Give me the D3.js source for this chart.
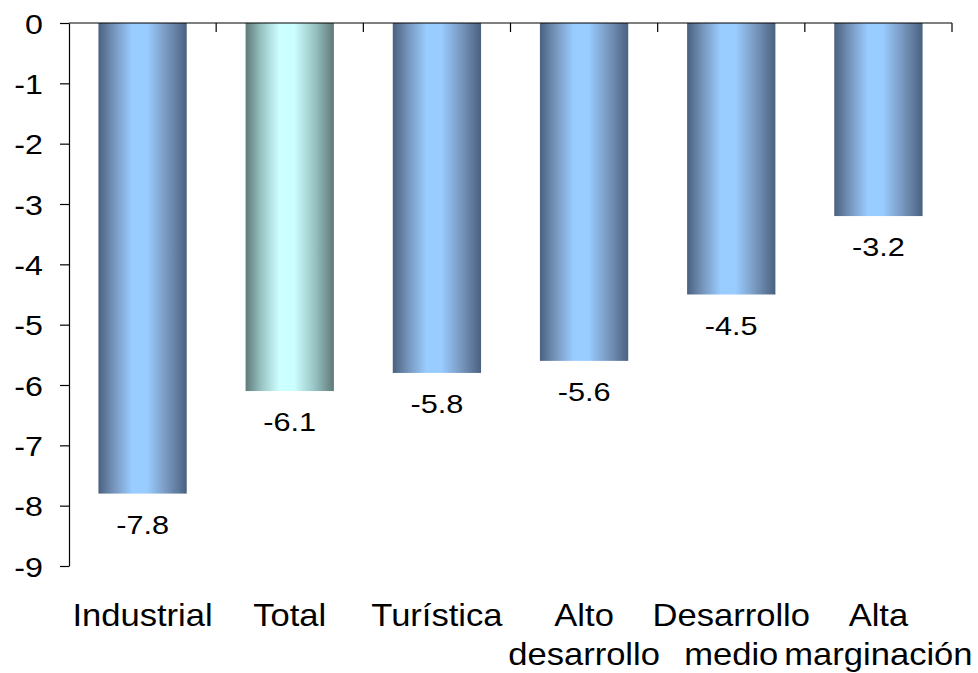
<!DOCTYPE html>
<html>
<head>
<meta charset="utf-8">
<script src="https://cdn.jsdelivr.net/npm/d3@7/dist/d3.min.js"></script>
<style>
  html, body { margin: 0; padding: 0; background: #fff; }
  svg { display: block; }
  text { font-family: "Liberation Sans", Arial, sans-serif; fill: #000; }
</style>
</head>
<body>
<svg id="chart" width="978" height="673"></svg>
<script>
// Variación por tipo de zona
const categories = ["Industrial", "Total", "Turística", "Alto desarrollo", "Desarrollo medio", "Alta marginación"];
const categoryLines = [["Industrial"], ["Total"], ["Turística"], ["Alto", "desarrollo"], ["Desarrollo", "medio"], ["Alta", "marginación"]];
const values = [-7.8, -6.1, -5.8, -5.6, -4.5, -3.2];
const valueLabels = ["-7.8", "-6.1", "-5.8", "-5.6", "-4.5", "-3.2"];
const yTicks = [0, -1, -2, -3, -4, -5, -6, -7, -8, -9];
const highlighted = ["Total"];

const svg = d3.select("#chart");
const plotLeft = 69, plotRight = 952, plotTop = 23, plotBottom = 566;

const x = d3.scaleBand().domain(categories).range([plotLeft, plotRight])
  .paddingInner(0.4).paddingOuter(0.2);
const y = d3.scaleLinear().domain([-9, 0]).range([plotBottom, plotTop]);

// Horizontal "cylinder" gradients for the bars
const defs = svg.append("defs");
function cylinder(id, dark, mid, light) {
  const g = defs.append("linearGradient").attr("id", id)
    .attr("x1", "0%").attr("x2", "100%").attr("y1", "0%").attr("y2", "0%");
  [[0, dark], [0.18, mid], [0.38, light], [0.55, light], [0.78, mid], [1, dark]]
    .forEach(([o, c]) => g.append("stop").attr("offset", o).attr("stop-color", c));
}
cylinder("gradBlue", "#4a6180", "#7796bd", "#99ccff");
cylinder("gradTeal", "#5f7979", "#99c4c4", "#ccffff");

// Bars hang down from zero
svg.append("g").selectAll("rect").data(categories).join("rect")
  .attr("x", d => x(d))
  .attr("width", x.bandwidth())
  .attr("y", y(0))
  .attr("height", (d, i) => y(values[i]) - y(0))
  .attr("fill", d => highlighted.includes(d) ? "url(#gradTeal)" : "url(#gradBlue)");

// Value labels under each bar end
svg.append("g").selectAll("text").data(categories).join("text")
  .attr("text-anchor", "middle")
  .attr("font-size", 26)
  .attr("transform", (d, i) => `translate(${x(d) + x.bandwidth() / 2},${y(values[i]) + 40}) scale(1.18,1)`)
  .text((d, i) => valueLabels[i]);

// Y axis
const yAxis = svg.append("g").attr("transform", `translate(${plotLeft},0)`)
  .call(d3.axisLeft(y).tickValues(yTicks).tickSize(9).tickSizeOuter(0).tickFormat(d => String(d)));
yAxis.select(".domain").attr("stroke", "#000").attr("stroke-width", 1.2);
yAxis.selectAll(".tick line").attr("stroke", "#000").attr("stroke-width", 1.2);
yAxis.selectAll(".tick text")
  .attr("x", null).attr("dy", null)
  .attr("font-size", 28)
  .attr("font-family", "Liberation Sans, Arial, sans-serif")
  .attr("text-anchor", "end")
  .attr("transform", "translate(-26,10) scale(1.15,1)");

// Category axis along zero line, ticks between categories
const step = x.step();
const boundaries = categories.map((d, i) => plotLeft + step * (i + 1));
const xAxis = svg.append("g");
xAxis.append("line").attr("x1", plotLeft).attr("x2", plotRight)
  .attr("y1", y(0)).attr("y2", y(0)).attr("stroke", "#000").attr("stroke-width", 1.2);
xAxis.selectAll("line.tk").data(boundaries).join("line").attr("class", "tk")
  .attr("x1", d => d).attr("x2", d => d)
  .attr("y1", y(0)).attr("y2", y(0) + 9)
  .attr("stroke", "#000").attr("stroke-width", 1.2);

// Category labels below the plot
const cat = svg.append("g").selectAll("g").data(categories).join("g")
  .attr("transform", d => `translate(${x(d) + x.bandwidth() / 2},0)`);
cat.each(function (d, i) {
  d3.select(this).selectAll("text").data(categoryLines[i]).join("text")
    .attr("text-anchor", "middle")
    .attr("font-size", 32)
    .attr("transform", (t, j) => `translate(0,${626 + j * 39}) scale(1.08,1)`)
    .text(t => t);
});
</script>
</body>
</html>
